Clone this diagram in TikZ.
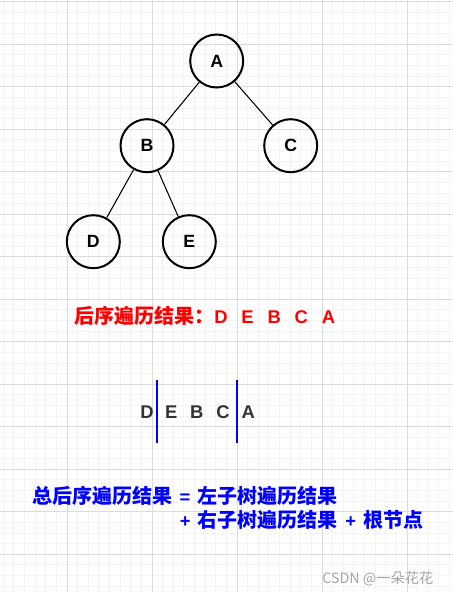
\documentclass[tikz,border=0pt]{standalone}
\usepackage{fontspec}
\setmainfont{Liberation Sans}
\newfontfamily\cjk{Noto Sans CJK SC}
\usetikzlibrary{positioning}
\definecolor{gridminor}{HTML}{F4F4F4}
\definecolor{gridmajor}{HTML}{DCDCDC}
\definecolor{lettergray}{HTML}{333333}
\definecolor{markgray}{HTML}{A6A6A6}
\newcommand\hz[1]{{\cjk\fontsize{15}{18}\selectfont #1}}
\newcommand\gap{\hspace{5.6pt}}
\tikzset{
  treenode/.style={draw, circle, line width=1.5pt, minimum size=39.75pt, inner sep=0pt,
    font=\bfseries\fontsize{13.3}{15}\selectfont},
  treeedge/.style={line width=0.8pt},
  minorline/.style={gridminor, line width=0.6pt},
  majorline/.style={gridmajor, line width=0.75pt},
  resulttext/.style={anchor=base west, inner sep=0pt, font=\bfseries\fontsize{13.8}{16}\selectfont},
  seqletter/.style={anchor=base, inner sep=0pt, text=lettergray, font=\bfseries\fontsize{13.8}{16}\selectfont},
  seqbar/.style={blue, line width=1.5pt}
}

\begin{document}
\begin{tikzpicture}[x=0.75pt, y=-0.75pt]
  % background grid
  \useasboundingbox (0,0) rectangle (453,592);
  \fill[white] (0,0) rectangle (453,592);
  \foreach \i in {0,...,42}
    \draw[minorline] (3.25+\i*10.625,0) -- (3.25+\i*10.625,592);
  \foreach \j in {0,...,55}
    \draw[minorline] (0,1.7+\j*10.625) -- (453,1.7+\j*10.625);
  \foreach \i in {0,...,4}
    \draw[majorline] (67+\i*85,0) -- (67+\i*85,592);
  \foreach \j in {0,...,13}
    \draw[majorline] (0,1.7+\j*42.5) -- (453,1.7+\j*42.5);

  % tree
  \node[treenode] (a) at (216.7,61) {A};
  \node[treenode] (b) at (147,145.7) {B};
  \node[treenode] (c) at (290.7,145.7) {C};
  \node[treenode] (d) at (93.3,241.7) {D};
  \node[treenode] (e) at (189.3,241.7) {E};

  \draw[treeedge] (a) -- (b);
  \draw[treeedge] (a) -- (c);
  \draw[treeedge] (b) -- (d);
  \draw[treeedge] (b) -- (e);

  % postorder result
  \node[resulttext, text=red] (post) at (74,323.5)
    {\hz{后序遍历结果：}D\hspace{10.4pt}E\hspace{10.4pt}B\hspace{10.4pt}C\hspace{10.4pt}A};

  % split sequence
  \foreach \t/\x [count=\k] in {D/147, E/171.3, B/196.8, C/223, A/248.3}
    \node[seqletter] (s\k) at (\x,418.3) {\t};
  \draw[seqbar] (157.3,380) -- (157.3,442.7);
  \draw[seqbar] (236.7,380) -- (236.7,442.7);

  % summary
  \node[resulttext, text=blue] (sum1) at (32,503.5)
    {\hz{总后序遍历结果}\gap=\gap\hz{左子树遍历结果}};
  \node[resulttext, text=blue] (sum2) at (179.5,527)
    {+\gap\hz{右子树遍历结果}\gap+\gap\hz{根节点}};

  \node[anchor=base west, inner sep=0pt, text=markgray, font=\cjk\fontsize{10.7}{12}\selectfont]
    (mark) at (322,583) {CSDN @一朵花花};
\end{tikzpicture}
\end{document}
